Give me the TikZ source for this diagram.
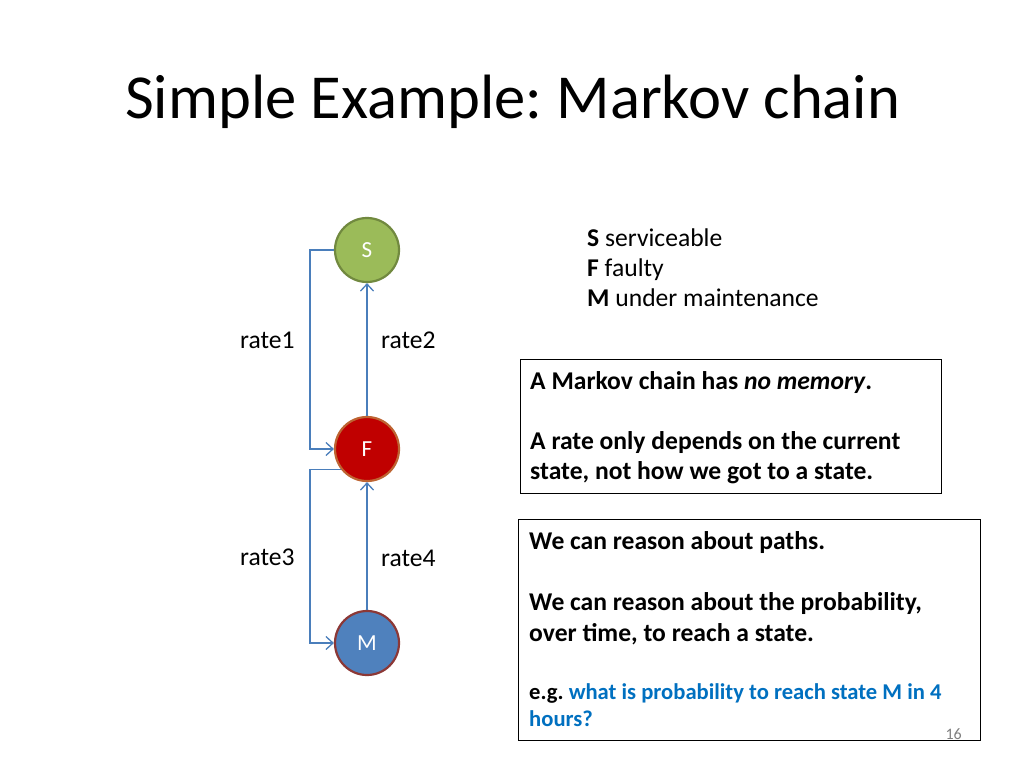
\documentclass[tikz,border=0pt]{standalone}
\usepackage{fontspec}
\setmainfont{Carlito}
\usetikzlibrary{arrows.meta}
\frenchspacing
\definecolor{conn}{RGB}{74,126,187}
\definecolor{sfill}{RGB}{155,187,89}
\definecolor{sline}{RGB}{113,137,63}
\definecolor{ffill}{RGB}{192,0,0}
\definecolor{fline}{RGB}{190,100,50}
\definecolor{mfill}{RGB}{79,129,189}
\definecolor{mline}{RGB}{140,56,54}
\definecolor{qblue}{RGB}{0,112,192}
\tikzset{
  state/.style={circle,minimum size=64pt,inner sep=0pt,line width=2.2pt,text=white,font=\fontsize{23}{27}\selectfont},
  connector/.style={draw=conn,line width=1.3pt,-{Straight Barb[length=7pt,width=13pt,line width=1.3pt]}},
  lbl/.style={anchor=base west,inner sep=0pt,font=\fontsize{25.6}{30}\selectfont},
  btxt/.style={anchor=base west,inner sep=0pt,font=\fontsize{25.6}{30}\selectfont\bfseries},
  panel/.style={draw=black,line width=1pt}
}
\begin{document}
\begin{tikzpicture}[x=1pt,y=-1pt]
\useasboundingbox (0,0) rectangle (1024,768);
\fill[white] (0,0) rectangle (1024,768);
% title
\node[anchor=base west,inner sep=0pt,font=\fontsize{62.6}{70}\selectfont] (title) at (125,118) {Simple Example: Markov chain};
% states
\node[state,fill=sfill,draw=sline] (S) at (367,250) {S};
\node[state,fill=ffill,draw=fline] (F) at (367,449) {F};
\node[state,fill=mfill,draw=mline] (M) at (367,643) {M};
% connectors
\draw[connector] (S.west) -- (310,250) |- (F.west);
\draw[connector] (F.north) -- (S.south);
\draw[connector] (F.219) -| (310,643) -- (M.west);
\draw[connector] (M.north) -- (F.south);
% rate labels
\node[lbl] (r1) at (240,348) {rate1};
\node[lbl] (r2) at (381,348) {rate2};
\node[lbl] (r3) at (240,565) {rate3};
\node[lbl] (r4) at (381,566) {rate4};
% legend
\node[lbl] (l1) at (587,246) {\textbf{S} serviceable};
\node[lbl] (l2) at (587,276) {\textbf{F} faulty};
\node[lbl] (l3) at (587,306) {\textbf{M} under maintenance};
% box 1
\draw[panel] (520,359) rectangle (941,493);
\node[btxt] (b1a) at (530,389) {A Markov chain has \textit{no memory}.};
\node[btxt] (b1b) at (530,449) {A rate only depends on the current};
\node[btxt] (b1c) at (530,479) {state, not how we got to a state.};
% box 2
\draw[panel] (518,519) rectangle (980,740);
\node[btxt] (b2a) at (529,549) {We can reason about paths.};
\node[btxt] (b2b) at (529,610) {We can reason about the probability,};
\node[btxt] (b2c) at (529,641) {over time, to reach a state.};
\node[btxt,font=\fontsize{22.6}{26}\selectfont\bfseries] (b2d) at (529,699) {e.g. \textcolor{qblue}{what is probability to reach state M in 4}};
\node[btxt,font=\fontsize{22.6}{26}\selectfont\bfseries,text=qblue] (b2e) at (529,726) {hours?};
\node[anchor=base east,inner sep=0pt,text=gray,font=\fontsize{16}{19}\selectfont] (pg) at (962,739) {16};
\end{tikzpicture}
\end{document}
